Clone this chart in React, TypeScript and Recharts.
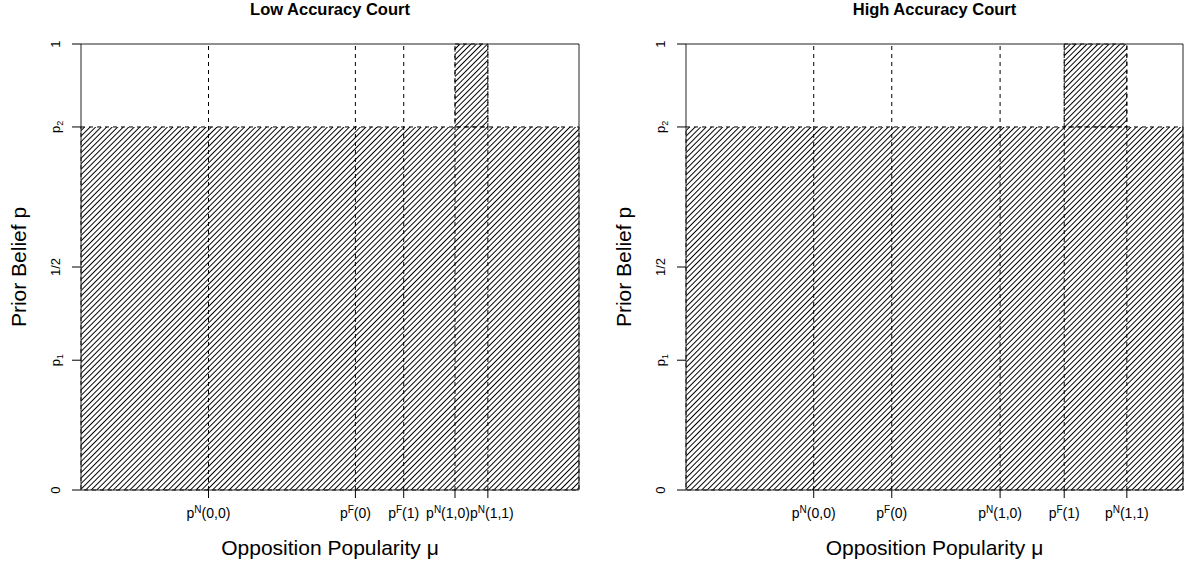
import React from 'react';
import {
  ComposedChart,
  XAxis,
  YAxis,
  ReferenceArea,
  ReferenceLine,
  Label,
} from 'recharts';

// thresholds on the opposition popularity axis (0..1)
const lowTicks = [0.256, 0.551, 0.648, 0.751, 0.817];
const lowSup = ['N', 'F', 'F', 'N', 'N'];
const lowArg = ['(0,0)', '(0)', '(1)', '(1,0)', '(1,1)'];
const lowBand = [0.751, 0.817];

const highTicks = [0.257, 0.414, 0.632, 0.761, 0.887];
const highSup = ['N', 'F', 'N', 'F', 'N'];
const highArg = ['(0,0)', '(0)', '(1,0)', '(1)', '(1,1)'];
const highBand = [0.761, 0.887];

// prior belief axis
const yTicks = [0, 0.291, 0.5, 0.814, 1];
const yBase = ['0', 'p', '1/2', 'p', '1'];
const ySub = ['', '1', '', '2', ''];
const p2 = 0.814;

const FONT = '"Liberation Sans", Arial, Helvetica, sans-serif';

const YTick = ({ x, y, payload }: any) => {
  const i = yTicks.indexOf(payload.value);
  const bx = x - 10;
  return (
    <text
      x={bx}
      y={y}
      transform={`rotate(-90, ${bx}, ${y})`}
      textAnchor="middle"
      fontFamily={FONT}
      fontSize={13}
      fill="#000"
    >
      <tspan>{yBase[i]}</tspan>
      {ySub[i] ? (
        <tspan dy={3} fontSize={9}>
          {ySub[i]}
        </tspan>
      ) : null}
    </text>
  );
};

// labels that would collide get pushed apart a few pixels
const makeXTick = (ticks: number[], sups: string[], args: string[], nudge: number[]) => (props: any) => {
  const { x, y, payload } = props;
  const i = ticks.indexOf(payload.value);
  return (
    <text x={x + (nudge[i] || 0)} y={y + 17.5} textAnchor="middle" fontFamily={FONT} fontSize={14} fill="#000">
      <tspan>p</tspan>
      <tspan dy={-5} fontSize={10}>
        {sups[i]}
      </tspan>
      <tspan dy={5}>{args[i]}</tspan>
    </text>
  );
};

interface PanelProps {
  id: string;
  title: string;
  ticks: number[];
  sups: string[];
  args: string[];
  band: number[];
  nudge: number[];
  left: number;
  width: number;
  rightMargin: number;
}

const Panel: React.FC<PanelProps> = ({ id, title, ticks, sups, args, band, nudge, left, width, rightMargin }) => {
  const data = ticks.map((t) => ({ x: t, y: 0 }));
  const plotW = width - 81 - rightMargin;
  return (
    <div style={{ position: 'absolute', left, top: 0, width, height: 563 }}>
      <div
        style={{
          position: 'absolute',
          left: 81,
          top: 0,
          width: plotW,
          textAlign: 'center',
          fontFamily: FONT,
          fontWeight: 'bold',
          fontSize: 16.5,
          lineHeight: '19px',
          color: '#000',
        }}
      >
        {title}
      </div>
      <ComposedChart width={width} height={563} data={data} margin={{ top: 44, right: rightMargin, bottom: 0, left: 0 }}>
        <defs>
          <pattern id={id} patternUnits="userSpaceOnUse" width={3.9} height={10} patternTransform="rotate(45)">
            <line x1={1.9} y1={0} x2={1.9} y2={10} stroke="#000" strokeWidth={1} shapeRendering="crispEdges" />
          </pattern>
        </defs>
        <XAxis
          type="number"
          dataKey="x"
          domain={[0, 1]}
          ticks={ticks}
          height={73}
          axisLine={false}
          tickSize={8}
          tickLine={{ stroke: '#000' }}
          tick={makeXTick(ticks, sups, args, nudge)}
          interval={0}
        >
          <Label
            content={({ viewBox }: any) => (
              <text
                x={viewBox.x + viewBox.width / 2}
                y={viewBox.y + 65}
                textAnchor="middle"
                fontFamily={FONT}
                fontSize={21}
                fill="#000"
              >
                Opposition Popularity μ
              </text>
            )}
          />
        </XAxis>
        <YAxis
          type="number"
          dataKey="y"
          domain={[0, 1]}
          ticks={yTicks}
          width={81}
          axisLine={false}
          tickSize={9}
          tickLine={{ stroke: '#000' }}
          tick={YTick}
          interval={0}
        >
          <Label
            content={({ viewBox }: any) => {
              const cx = viewBox.x + 26;
              const cy = viewBox.y + viewBox.height / 2;
              return (
                <text
                  x={cx}
                  y={cy}
                  transform={`rotate(-90, ${cx}, ${cy})`}
                  textAnchor="middle"
                  fontFamily={FONT}
                  fontSize={21}
                  fill="#000"
                >
                  Prior Belief p
                </text>
              );
            }}
          />
        </YAxis>
        <ReferenceArea
          x1={0}
          x2={1}
          y1={0}
          y2={p2}
          fill={`url(#${id})`}
          fillOpacity={1}
          stroke="#000"
          strokeDasharray="4 4"
          ifOverflow="visible"
        />
        <ReferenceArea
          x1={band[0]}
          x2={band[1]}
          y1={p2}
          y2={1}
          fill={`url(#${id})`}
          fillOpacity={1}
          stroke="#000"
          strokeDasharray="4 4"
          ifOverflow="visible"
        />
        {ticks.map((t) => (
          <ReferenceLine
            key={t}
            x={t}
            stroke="#000"
            strokeDasharray="4 4"
            ifOverflow="visible"
          />
        ))}
        <ReferenceArea
          x1={0}
          x2={1}
          y1={0}
          y2={1}
          fill="none"
          stroke="#222"
          strokeWidth={1}
          ifOverflow="visible"
        />
      </ComposedChart>
    </div>
  );
}

export default function App() {
  return (
    <div style={{ position: 'absolute', left: 0, top: 0, width: 1187, height: 563, background: '#fff' }}>
      <Panel
        id="hatchLow"
        title="Low Accuracy Court"
        ticks={lowTicks}
        sups={lowSup}
        args={lowArg}
        band={lowBand}
        nudge={[0, 0, 0, -7, 4]}
        left={0}
        width={593}
        rightMargin={14}
      />
      <Panel
        id="hatchHigh"
        title="High Accuracy Court"
        ticks={highTicks}
        sups={highSup}
        args={highArg}
        band={highBand}
        nudge={[0, 0, 0, 0, 0]}
        left={605}
        width={582}
        rightMargin={4}
      />
    </div>
  );
}
